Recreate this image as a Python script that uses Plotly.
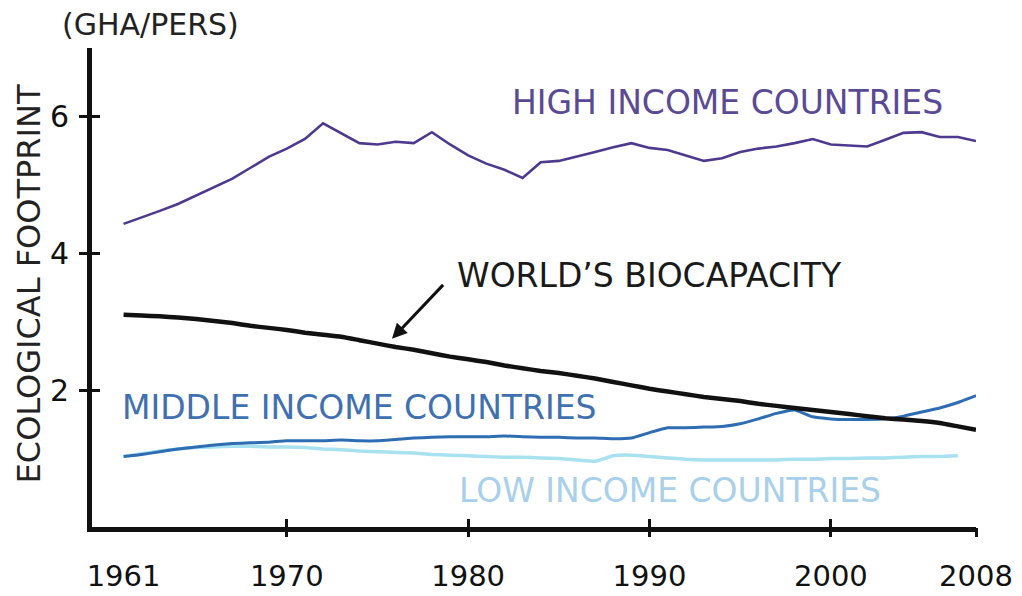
'''
    Ecological footprint per person by income group vs. the world's biocapacity,
    drawn as a hand-lettered line chart.
'''
import plotly.graph_objects as go

# Data (gha per person).
years = list(range(1961, 2009))
low_years = list(range(1961, 2008))

high_income = [4.43, 4.52, 4.62, 4.72, 4.84, 4.96, 5.09, 5.25, 5.41, 5.53,
               5.67, 5.90, 5.75, 5.61, 5.59, 5.63, 5.61, 5.77, 5.59, 5.43,
               5.31, 5.22, 5.10, 5.33, 5.35, 5.41, 5.48, 5.55, 5.61, 5.54,
               5.51, 5.43, 5.35, 5.39, 5.48, 5.53, 5.56, 5.61, 5.67, 5.59,
               5.57, 5.56, 5.66, 5.76, 5.77, 5.70, 5.70, 5.64]

biocapacity = [3.10, 3.09, 3.08, 3.06, 3.04, 3.01, 2.98, 2.94, 2.91, 2.88,
               2.84, 2.81, 2.78, 2.73, 2.68, 2.63, 2.59, 2.54, 2.49, 2.45,
               2.41, 2.36, 2.32, 2.28, 2.25, 2.21, 2.17, 2.12, 2.07, 2.02,
               1.98, 1.94, 1.90, 1.87, 1.84, 1.80, 1.77, 1.74, 1.71, 1.68,
               1.65, 1.62, 1.59, 1.57, 1.55, 1.52, 1.47, 1.42]

middle_income = [1.03, 1.06, 1.10, 1.14, 1.17, 1.20, 1.22, 1.23, 1.24, 1.26,
                 1.26, 1.26, 1.27, 1.26, 1.26, 1.28, 1.30, 1.31, 1.32, 1.32,
                 1.32, 1.33, 1.32, 1.31, 1.31, 1.30, 1.30, 1.29, 1.30, 1.38,
                 1.45, 1.45, 1.46, 1.47, 1.51, 1.58, 1.66, 1.71, 1.61, 1.58,
                 1.57, 1.57, 1.58, 1.62, 1.68, 1.74, 1.82, 1.92]

low_income = [1.03, 1.07, 1.11, 1.14, 1.16, 1.17, 1.18, 1.18, 1.17, 1.17,
              1.16, 1.14, 1.13, 1.11, 1.10, 1.09, 1.08, 1.06, 1.05, 1.04,
              1.03, 1.02, 1.02, 1.01, 1.00, 0.98, 0.96, 1.04, 1.05, 1.03,
              1.01, 0.99, 0.98, 0.98, 0.98, 0.98, 0.98, 0.99, 0.99, 1.00,
              1.00, 1.01, 1.01, 1.02, 1.03, 1.03, 1.04]

x_ticks = [1961, 1970, 1980, 1990, 2000, 2008]
y_ticks = [2, 4, 6]

FONT = "DejaVu Sans"
X_RANGE = [1959.26, 2008]
Y_RANGE = [0, 7]

fig = go.Figure()

fig.add_trace(go.Scatter(x=low_years, y=low_income, mode="lines",
                         line=dict(color="#a8e1ef", width=3.5, shape="spline", smoothing=0.4)))
fig.add_trace(go.Scatter(x=years, y=middle_income, mode="lines",
                         line=dict(color="#2f6db3", width=3, shape="spline", smoothing=0.4)))
fig.add_trace(go.Scatter(x=years, y=biocapacity, mode="lines",
                         line=dict(color="#111111", width=4.5, shape="spline", smoothing=0.4)))
fig.add_trace(go.Scatter(x=years, y=high_income, mode="lines",
                         line=dict(color="#4d3a8e", width=2.6)))

# empty traces so the overlay axes (crossing tick marks) get drawn
for xa, ya in [("x2", "y"), ("x3", "y"), ("x", "y2")]:
    fig.add_trace(go.Scatter(x=[], y=[], xaxis=xa, yaxis=ya, hoverinfo="skip"))

# series labels
labels = [
    ("HIGH INCOME COUNTRIES", 1982.3, 6.2, "#5a4a95"),
    ("WORLD\u2019S BIOCAPACITY", 1979.3, 3.68, "#1a1a1a"),
    ("MIDDLE INCOME COUNTRIES", 1960.8, 1.75, "#3f70b0"),
    ("LOW INCOME COUNTRIES", 1979.4, 0.54, "#a9d0ea"),
]
for text, x, y, color in labels:
    fig.add_annotation(x=x, y=y, text=text, showarrow=False, xanchor="left",
                       yanchor="middle", font=dict(family=FONT, size=33, color=color))

# arrow to the biocapacity line
fig.add_annotation(x=1975.8, y=2.75, ax=1978.7, ay=3.56, axref="x", ayref="y",
                   text="", showarrow=True, arrowhead=2, arrowsize=1,
                   arrowwidth=3, arrowcolor="#111111")

fig.add_annotation(xref="paper", yref="paper", x=0.066, y=1.05, text="(GHA/PERS)",
                   xanchor="center", yanchor="middle", showarrow=False,
                   font=dict(family=FONT, size=30, color="#222222"))
fig.add_annotation(xref="paper", yref="paper", x=-0.071, y=0.507,
                   text="ECOLOGICAL FOOTPRINT", textangle=-90, showarrow=False,
                   xanchor="center", yanchor="middle",
                   font=dict(family=FONT, size=32, color="#222222"))

axis_line = dict(showgrid=False, zeroline=False, automargin=False)
fig.update_layout(
    width=1022, height=596, autosize=False,
    margin=dict(l=84, r=54, t=40, b=77),
    plot_bgcolor="white", paper_bgcolor="white",
    showlegend=False,
    font=dict(family=FONT, color="#111111"),
    xaxis=dict(range=X_RANGE, tickvals=x_ticks, ticktext=[str(v) for v in x_ticks],
               ticks="", showline=True, linewidth=5, linecolor="#111111",
               tickfont=dict(size=29), ticklabelstandoff=19, **axis_line),
    xaxis2=dict(range=X_RANGE, overlaying="x", anchor="y", tickvals=x_ticks[1:],
                ticks="outside", ticklen=9, tickwidth=3, tickcolor="#111111",
                showticklabels=False, showline=False, **axis_line),
    xaxis3=dict(range=X_RANGE, overlaying="x", anchor="y", tickvals=x_ticks[1:],
                ticks="inside", ticklen=8, tickwidth=3, tickcolor="#111111",
                showticklabels=False, showline=False, **axis_line),
    yaxis=dict(range=Y_RANGE, tickvals=y_ticks, ticks="outside", ticklen=8,
               tickwidth=3, tickcolor="#111111", showline=True, linewidth=5,
               linecolor="#111111", tickfont=dict(size=30), ticklabelstandoff=4,
               **axis_line),
    yaxis2=dict(range=Y_RANGE, overlaying="y", anchor="x", tickvals=y_ticks,
                ticks="inside", ticklen=8, tickwidth=3, tickcolor="#111111",
                showticklabels=False, showline=False, **axis_line),
)

fig.write_html("out.html")
